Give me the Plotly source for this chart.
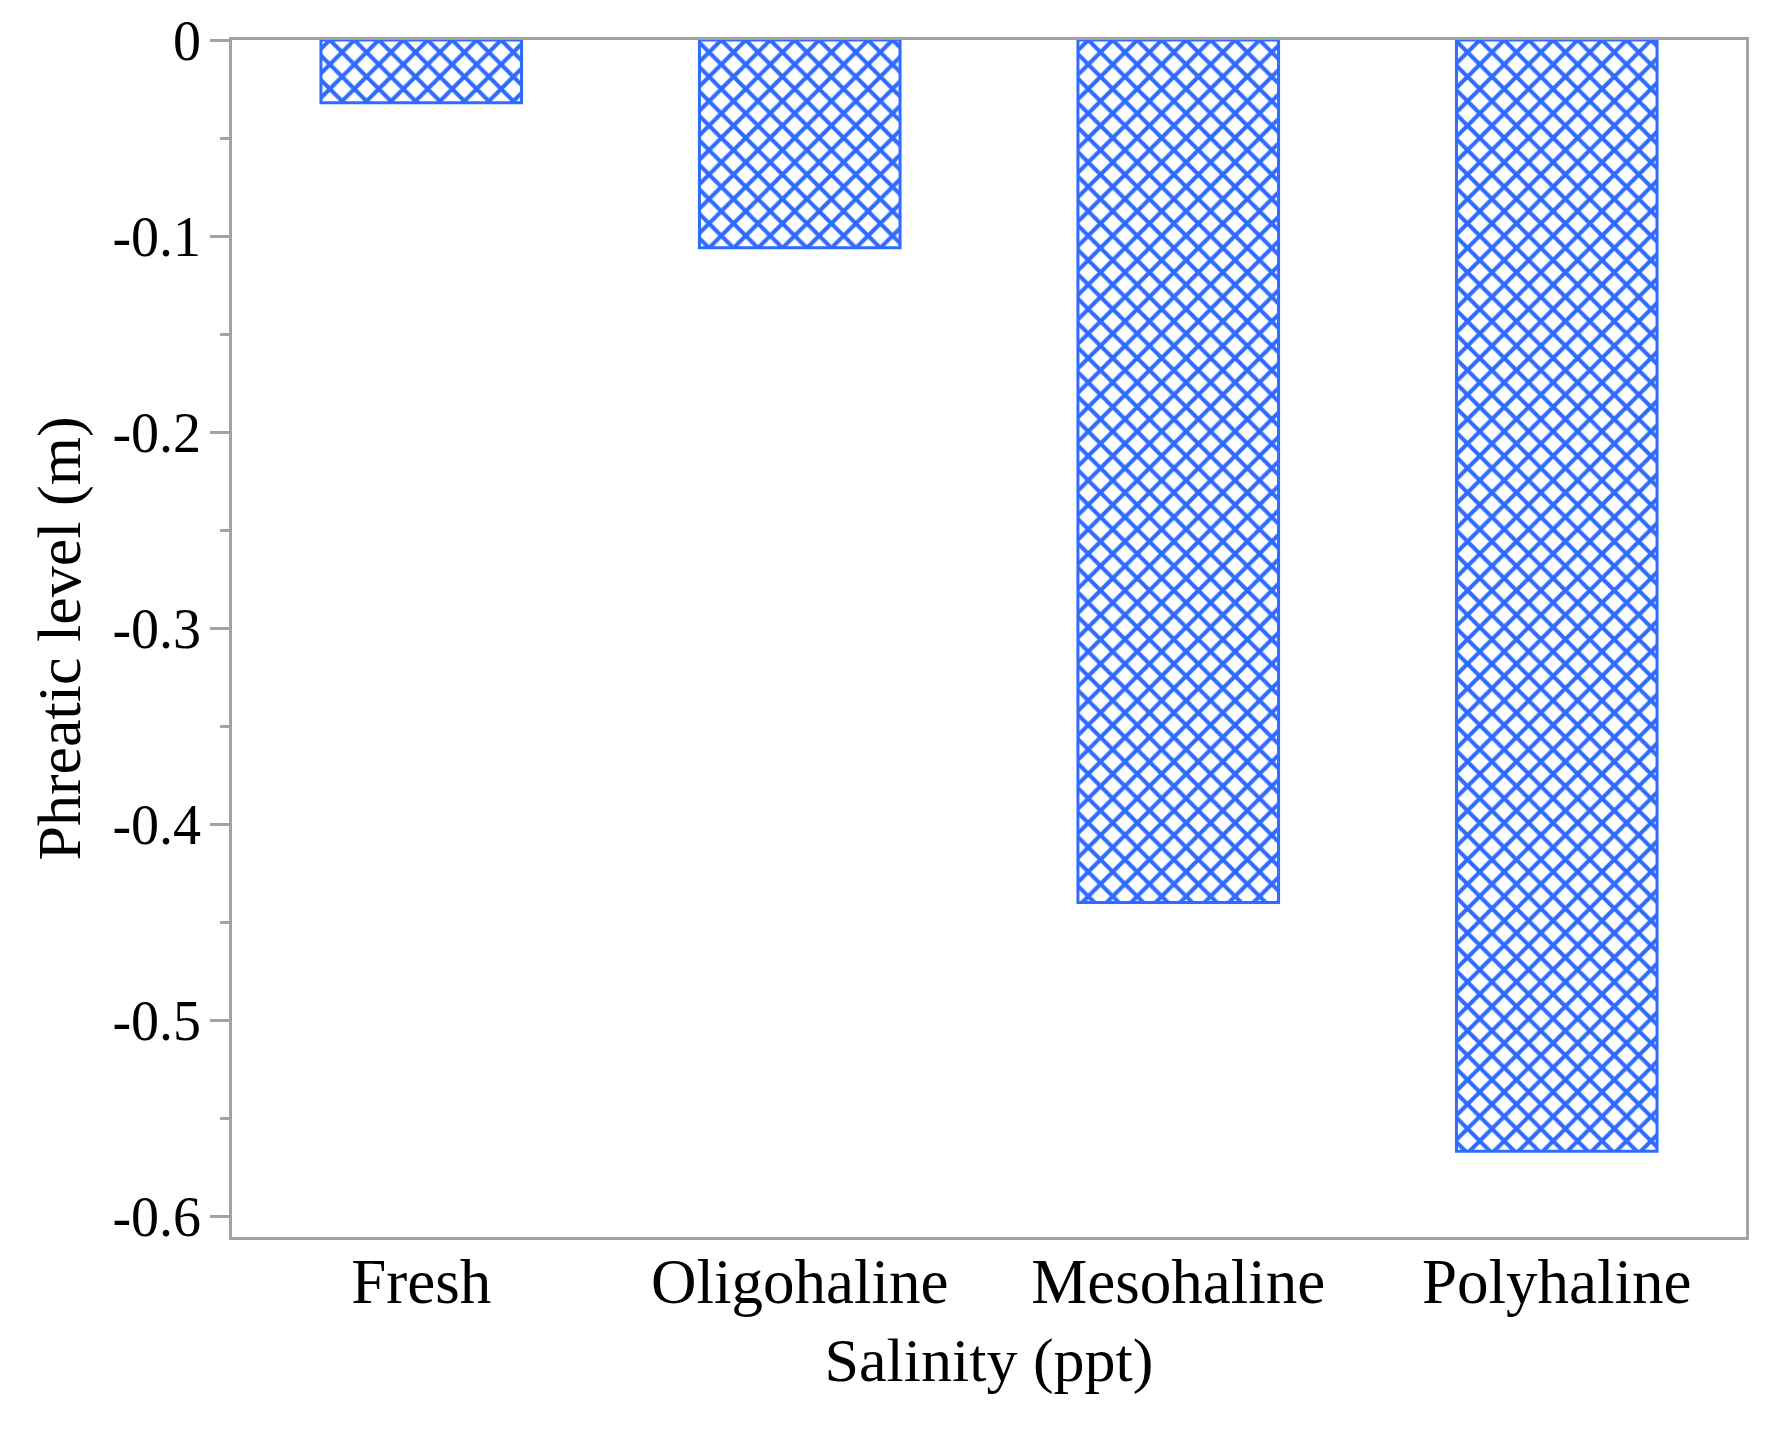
import plotly.graph_objects as go

categories = ["Fresh", "Oligohaline", "Mesohaline", "Polyhaline"]
phreatic_level = [-0.032, -0.106, -0.440, -0.567]
y_tick_vals = [0, -0.1, -0.2, -0.3, -0.4, -0.5, -0.6]
y_tick_text = ["0", "-0.1", "-0.2", "-0.3", "-0.4", "-0.5", "-0.6"]

BLUE = "#2F6BFF"
GRAY = "#A3A3A3"
FONT = "Liberation Serif"

fig = go.Figure()
fig.add_trace(go.Bar(
    x=categories,
    y=phreatic_level,
    width=0.53,
    marker=dict(
        color="white",
        line=dict(color=BLUE, width=3),
        pattern=dict(shape="x", fgcolor=BLUE, bgcolor="white", fgopacity=1,
                     size=17.3, solidity=0.42, fillmode="overlay"),
    ),
    showlegend=False,
))

# page body has an 8px default margin, so the figure is sized/offset to compensate
fig.update_layout(
    width=1759,
    height=1413,
    margin=dict(l=224, r=21, t=32, b=184),
    paper_bgcolor="white",
    plot_bgcolor="white",
    font=dict(family=FONT, size=56, color="black"),
)

fig.update_xaxes(
    range=[-0.5, 3.5],
    automargin=False,
    showline=True, linecolor=GRAY, linewidth=2.5, mirror=True,
    ticks="", showgrid=False, zeroline=False,
    tickfont=dict(size=63),
    ticklabelstandoff=-12,
    title=dict(text="Salinity (ppt)", font=dict(size=62), standoff=22),
)

fig.update_yaxes(
    range=[-0.6107, 0],
    automargin=False,
    tickvals=y_tick_vals, ticktext=y_tick_text,
    showline=True, linecolor=GRAY, linewidth=2.5, mirror=True,
    ticks="outside", ticklen=19, tickwidth=2.5, tickcolor=GRAY,
    minor=dict(dtick=0.05, ticks="outside", ticklen=9, tickwidth=2.5, tickcolor=GRAY, showgrid=False),
    showgrid=False, zeroline=False,
    ticklabelstandoff=-2,
    title=dict(text="Phreatic level (m)", font=dict(size=62), standoff=12),
)

fig.write_html("out.html")
